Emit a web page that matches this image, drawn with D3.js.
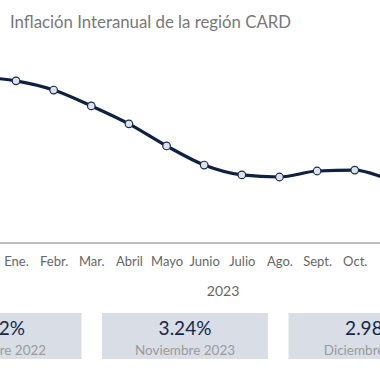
<!DOCTYPE html>
<html>
<head>
<meta charset="utf-8">
<script src="https://cdn.jsdelivr.net/npm/d3@7"></script>
<style>
  body { margin: 0; background: #fff; }
  svg { display: block; font-family: "Lato", "Noto Sans", sans-serif; }
</style>
</head>
<body>
<div id="chart"></div>
<script>
// data
var periods = ["2022-12", "2023-01", "2023-02", "2023-03", "2023-04", "2023-05", "2023-06",
               "2023-07", "2023-08", "2023-09", "2023-10", "2023-11", "2023-12"];
var monthLabels = ["Dic.", "Ene.", "Febr.", "Mar.", "Abril", "Mayo", "Junio",
                   "Julio", "Ago.", "Sept.", "Oct.", "Nov.", "Dic."];
var inflation = [7.72, 7.55, 7.15, 6.46, 5.68, 4.72, 3.89, 3.46, 3.37, 3.63, 3.67, 3.24, 2.98];
var yearLabels = ["2022", "2023"];
var yearFirst = ["2022-12", "2023-01"];
var yearLast = ["2022-12", "2023-12"];
var boxValues = ["7.72%", "3.24%", "2.98%"];
var boxLabels = ["Diciembre 2022", "Noviembre 2023", "Diciembre 2023"];

var W = 380, H = 380;
var svg = d3.select("#chart").append("svg")
    .attr("width", W)
    .attr("height", H);

// title
svg.append("text")
    .attr("x", 10)
    .attr("y", 28)
    .style("font-size", "16.8px")
    .style("fill", "#787878")
    .text("Inflación Interanual de la región CARD");

var x = d3.scalePoint()
    .domain(periods)
    .range([-21.6, 430]);

var y = d3.scaleLinear()
    .domain([2, 8])
    .range([208.5, 70.5]);

var axisY = 243;

// x axis
var xAxis = d3.axisBottom(x)
    .tickSize(0)
    .tickPadding(14)
    .tickFormat(function(d, i) { return monthLabels[i]; });

var gx = svg.append("g")
    .attr("transform", "translate(0," + axisY + ")")
    .call(xAxis);
gx.select(".domain")
    .attr("d", "M-60,0H460")
    .attr("stroke", "#aaa")
    .attr("stroke-width", 1.5);
gx.selectAll("text")
    .style("font-family", "Lato, 'Noto Sans', sans-serif")
    .style("font-size", "13px")
    .style("fill", "#666");

// year labels
svg.selectAll(".year")
    .data(yearLabels)
  .enter().append("text")
    .attr("class", "year")
    .attr("x", function(d, i) { return (x(yearFirst[i]) + x(yearLast[i])) / 2; })
    .attr("y", 296)
    .attr("text-anchor", "middle")
    .style("font-size", "14px")
    .style("fill", "#666")
    .text(function(d) { return d; });

// line
var line = d3.line()
    .x(function(d, i) { return x(periods[i]); })
    .y(function(d) { return y(d); })
    .curve(d3.curveMonotoneX);

svg.append("path")
    .datum(inflation)
    .attr("d", line)
    .attr("fill", "none")
    .attr("stroke", "#0f2142")
    .attr("stroke-width", 3.2);

svg.selectAll(".dot")
    .data(inflation)
  .enter().append("circle")
    .attr("class", "dot")
    .attr("cx", function(d, i) { return x(periods[i]); })
    .attr("cy", function(d) { return y(d); })
    .attr("r", 3.8)
    .attr("fill", "#dde3ee")
    .attr("stroke", "#1a2b4c")
    .attr("stroke-width", 1.2);

// summary boxes
var boxW = 166, boxGap = 20.5, boxTop = 313, boxH = 46;
var boxX0 = 102 - boxW - boxGap;

var boxes = svg.selectAll(".box")
    .data(boxValues)
  .enter().append("g")
    .attr("class", "box")
    .attr("transform", function(d, i) {
      return "translate(" + (boxX0 + i * (boxW + boxGap)) + "," + boxTop + ")";
    });

boxes.append("rect")
    .attr("width", boxW)
    .attr("height", boxH)
    .attr("fill", "#d9dee6");

boxes.append("text")
    .attr("x", boxW / 2)
    .attr("y", 21.5)
    .attr("text-anchor", "middle")
    .style("font-size", "19px")
    .style("fill", "#14264a")
    .text(function(d) { return d; });

boxes.append("text")
    .attr("x", boxW / 2)
    .attr("y", 42)
    .attr("text-anchor", "middle")
    .style("font-size", "13.5px")
    .style("fill", "#9a9a9a")
    .text(function(d, i) { return boxLabels[i]; });
</script>
</body>
</html>
